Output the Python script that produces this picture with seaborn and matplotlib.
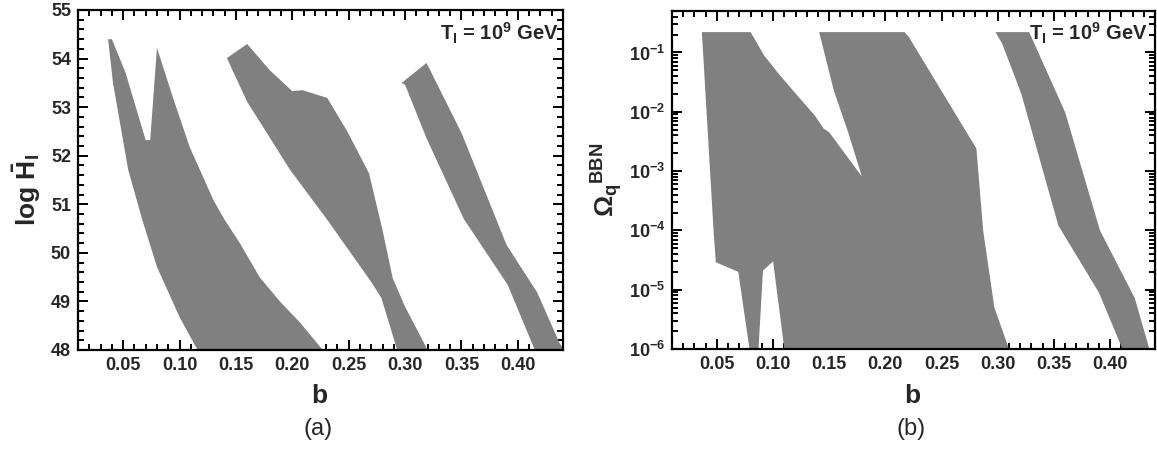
import math
import matplotlib
matplotlib.use("Agg")
import matplotlib.pyplot as plt
from matplotlib.ticker import MultipleLocator, FixedLocator, FuncFormatter, LogLocator, NullFormatter
import seaborn as sns

# ---- panel (a): allowed bands in the (b, log H_I) plane, outline vertices ----
band1_b = [0.116, 0.100, 0.080, 0.067, 0.0545, 0.041, 0.0367, 0.040, 0.052, 0.070,
           0.074, 0.080, 0.094, 0.109, 0.130, 0.140, 0.1535, 0.171, 0.189, 0.207, 0.227]
band1_logH = [48.0, 48.68, 49.71, 50.68, 51.71, 53.50, 54.40, 54.40, 53.72, 52.32,
              52.32, 54.22, 53.21, 52.18, 51.09, 50.68, 50.20, 49.50, 49.00, 48.56, 48.0]

band2_b = [0.293, 0.279, 0.270, 0.231, 0.198, 0.160, 0.142, 0.160, 0.180, 0.200,
           0.209, 0.231, 0.249, 0.268, 0.280, 0.289, 0.300, 0.320]
band2_logH = [48.0, 49.07, 49.40, 50.68, 51.71, 53.11, 54.01, 54.30, 53.76, 53.33,
              53.35, 53.19, 52.49, 51.64, 50.47, 49.48, 48.89, 48.0]

band3_b = [0.415, 0.391, 0.352, 0.319, 0.300, 0.297, 0.319, 0.350, 0.381, 0.390,
           0.417, 0.437, 0.441]
band3_logH = [48.0, 49.34, 50.70, 52.36, 53.46, 53.50, 53.91, 52.47, 50.68, 50.16,
              49.19, 48.14, 48.0]

# ---- panel (b): allowed regions in the (b, Omega_q^BBN) plane ----
region1_b = [0.0366, 0.080, 0.092, 0.104, 0.119, 0.137, 0.145, 0.150, 0.179,
             0.167, 0.154, 0.141, 0.217, 0.221, 0.281, 0.287, 0.297, 0.310,
             0.110, 0.100, 0.091, 0.087, 0.079, 0.069, 0.049, 0.047]
region1_omega = [0.22, 0.22, 0.089, 0.046, 0.0214, 0.0087, 0.0052, 0.0045, 8.1e-4,
                 0.0044, 0.023, 0.22, 0.22, 0.18, 0.0024, 1.0e-4, 5.0e-6, 1.0e-6,
                 1.0e-6, 3.0e-5, 2.1e-5, 1.0e-6, 1.0e-6, 2.0e-5, 2.9e-5, 1.0e-4]

region2_b = [0.298, 0.304, 0.321, 0.354, 0.390, 0.411, 0.435, 0.422, 0.391, 0.360, 0.328]
region2_omega = [0.22, 0.14, 0.020, 1.2e-4, 9.0e-6, 1.0e-6, 1.0e-6, 7.2e-6, 1.0e-4,
                 0.0098, 0.22]

b_ticks = [0.05, 0.10, 0.15, 0.20, 0.25, 0.30, 0.35, 0.40]
logH_ticks = [48, 49, 50, 51, 52, 53, 54, 55]
omega_ticks = [1e-6, 1e-5, 1e-4, 1e-3, 1e-2, 1e-1]

FILL = "#808080"

sns.set_style("ticks")
plt.rcParams["font.family"] = ["Liberation Sans", "DejaVu Sans"]
plt.rcParams["mathtext.fontset"] = "custom"
plt.rcParams["mathtext.rm"] = "Liberation Sans"
plt.rcParams["mathtext.bf"] = "Liberation Sans:bold"
plt.rcParams["mathtext.it"] = "Liberation Sans:italic"
plt.rcParams["mathtext.sf"] = "Liberation Sans"

fig = plt.figure(figsize=(11.57, 4.51), dpi=100)
W, H = 1157.0, 451.0
ax_a = fig.add_axes([78 / W, (H - 350) / H, 485 / W, 340 / H])
ax_b = fig.add_axes([672 / W, (H - 349) / H, 483 / W, 338 / H])


def style_axis(ax):
    for s in ax.spines.values():
        s.set_linewidth(1.6)
        s.set_color("black")
    ax.tick_params(which="both", direction="in", top=True, right=True,
                   width=1.4, color="black")
    ax.tick_params(which="major", length=7, labelsize=13, pad=5)
    ax.tick_params(which="minor", length=4)
    for lab in ax.get_xticklabels() + ax.get_yticklabels():
        lab.set_fontweight("bold")
    ax.set_facecolor("white")


def log_label(v, pos):
    return r"$\mathbf{10^{%d}}$" % round(math.log10(v))


# panel (a)
for bx, by in [(band1_b, band1_logH), (band2_b, band2_logH), (band3_b, band3_logH)]:
    ax_a.fill(bx, by, color=FILL, lw=0)
ax_a.set_xlim(0.01, 0.44)
ax_a.set_ylim(48, 55)
ax_a.xaxis.set_major_locator(FixedLocator(b_ticks))
ax_a.xaxis.set_major_formatter(FuncFormatter(lambda v, p: f"{v:.2f}"))
ax_a.xaxis.set_minor_locator(MultipleLocator(0.01))
ax_a.yaxis.set_major_locator(FixedLocator(logH_ticks))
ax_a.yaxis.set_minor_locator(MultipleLocator(0.2))
style_axis(ax_a)
ax_a.text(0.99, 0.93, r"$\mathbf{T_I}$ = $\mathbf{10^9}$ GeV", transform=ax_a.transAxes,
          ha="right", va="center", fontsize=14.5, fontweight="bold")

# panel (b)
for bx, by in [(region1_b, region1_omega), (region2_b, region2_omega)]:
    ax_b.fill(bx, by, color=FILL, lw=0)
ax_b.set_yscale("log")
ax_b.set_xlim(0.01, 0.44)
ax_b.set_ylim(1e-6, 0.5)
ax_b.xaxis.set_major_locator(FixedLocator(b_ticks))
ax_b.xaxis.set_major_formatter(FuncFormatter(lambda v, p: f"{v:.2f}"))
ax_b.xaxis.set_minor_locator(MultipleLocator(0.01))
ax_b.yaxis.set_major_locator(FixedLocator(omega_ticks))
ax_b.yaxis.set_major_formatter(FuncFormatter(log_label))
ax_b.yaxis.set_minor_locator(LogLocator(base=10, subs=range(2, 10), numticks=20))
ax_b.yaxis.set_minor_formatter(NullFormatter())
style_axis(ax_b)
ax_b.text(0.985, 0.935, r"$\mathbf{T_I}$ = $\mathbf{10^9}$ GeV", transform=ax_b.transAxes,
          ha="right", va="center", fontsize=14.5, fontweight="bold")

# axis titles and panel tags
fig.text(319 / W, 1 - 396 / H, "b", ha="center", va="center", fontsize=19, fontweight="bold")
fig.text(912 / W, 1 - 396 / H, "b", ha="center", va="center", fontsize=19, fontweight="bold")
fig.text(318 / W, 1 - 429 / H, "(a)", ha="center", va="center", fontsize=17)
fig.text(911 / W, 1 - 429 / H, "(b)", ha="center", va="center", fontsize=17)
fig.text(27 / W, 1 - 190 / H, r"log $\mathbf{\bar{H}_I}$", rotation=90,
         ha="center", va="center", fontsize=19, fontweight="bold")
fig.text(607 / W, 1 - 180 / H, r"$\mathbf{\Omega_q{}^{BBN}}$", rotation=90,
         ha="center", va="center", fontsize=19, fontweight="bold")

fig.savefig("out.png", dpi=100, facecolor="white")
